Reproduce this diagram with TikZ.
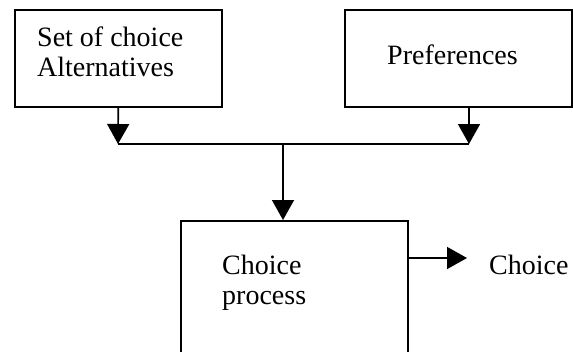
\documentclass[tikz,border=0pt]{standalone}
\usepackage{fontspec}
\setmainfont{Liberation Serif}
\usetikzlibrary{arrows.meta,positioning,calc}
\tikzstyle{block}=[draw,line width=1.6pt,minimum height=97pt,inner sep=0pt]
\tikzstyle{lbl}=[inner sep=0pt,font=\fontsize{28}{30}\selectfont]
\tikzstyle{arr}=[line width=1.6pt,-{Triangle[length=20pt,width=22pt]}]

\begin{document}
\begin{tikzpicture}[x=1pt,y=-1pt]
\useasboundingbox (0,0) rectangle (573,351);
\clip (0,0) rectangle (573,351);
% boxes
\node [block,minimum width=207pt,anchor=north west] (alt) at (14,9) {};
\node [block,minimum width=227pt,anchor=north west] (pref) at (344,9) {};
\node [block,minimum width=227pt,minimum height=200pt,anchor=north west] (proc) at (180,220) {};
% texts
\node [lbl,align=left,anchor=base west] (alttxt) at (37,76) {Set of choice\\Alternatives};
\node [lbl,anchor=base west] (preftxt) at (387,64) {Preferences};
\node [lbl,align=left,anchor=base west] (proctxt) at (222,304) {Choice\\process};
\node [lbl,anchor=base west] (choice) at (489,274) {Choice};
% joins
\coordinate (j1) at (118,144);
\coordinate (j2) at (469,144);
\coordinate (jm) at (283,144);
\coordinate (out) at (467,258);
\draw [arr] (alt.south) -- (j1);
\draw [arr] (j2 |- pref.south) -- (j2);
\draw [line width=1.6pt] (j1) -- (j2);
\draw [arr] (jm) -- (jm |- proc.north);
\draw [arr] (proc.east |- out) -- (out);
\end{tikzpicture}
\end{document}
